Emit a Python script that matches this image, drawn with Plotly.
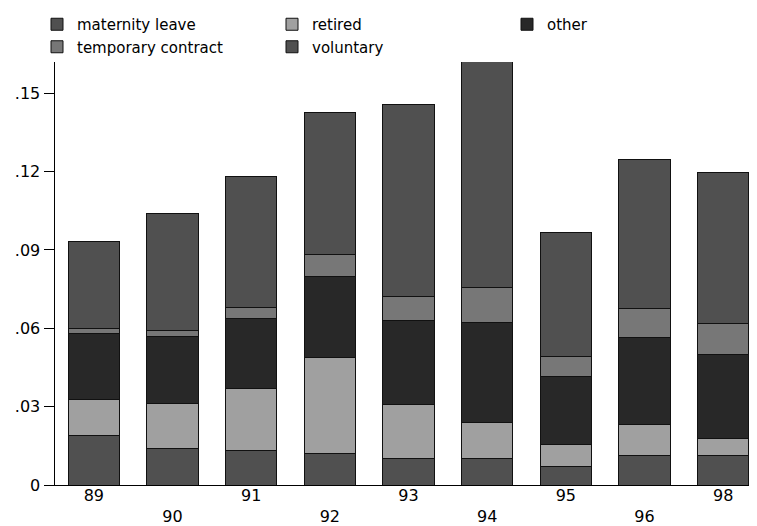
import plotly.graph_objects as go

categories = ["89", "90", "91", "92", "93", "94", "95", "96", "98"]

maternity_leave = [0.0189, 0.0139, 0.0133, 0.0120, 0.0100, 0.0100, 0.0072, 0.0113, 0.0113]
retired = [0.0139, 0.0172, 0.0238, 0.0370, 0.0207, 0.0138, 0.0082, 0.0118, 0.0066]
other = [0.0252, 0.0257, 0.0267, 0.0309, 0.0323, 0.0386, 0.0263, 0.0334, 0.0321]
temporary_contract = [0.0018, 0.0025, 0.0041, 0.0082, 0.0093, 0.0134, 0.0074, 0.0112, 0.0120]
voluntary = [0.0334, 0.0447, 0.0502, 0.0545, 0.0734, 0.0863, 0.0475, 0.0571, 0.0576]

y_tick_values = [0, 0.03, 0.06, 0.09, 0.12, 0.15]
y_tick_labels = ["0", ".03", ".06", ".09", ".12", ".15"]

series = [
    ("maternity leave", maternity_leave, "#505050"),
    ("retired", retired, "#a0a0a0"),
    ("other", other, "#282828"),
    ("temporary contract", temporary_contract, "#777777"),
    ("voluntary", voluntary, "#505050"),
]

FONT = "DejaVu Sans"
# the page body adds an 8px offset, so the figure is sized to the visible area
OFF = 8
W, H = 757 - OFF, 526 - OFF
PLOT_LEFT = 54.5 - OFF
PLOT_TOP = 62 - OFF
PLOT_BOTTOM = 485.5 - OFF

fig = go.Figure()
for name, vals, color in series:
    fig.add_trace(go.Bar(
        x=categories, y=vals, name=name,
        marker=dict(color=color, line=dict(color="#111111", width=1)),
    ))

x_tick_text = [c if i % 2 == 0 else "<br>" + c for i, c in enumerate(categories)]

fig.update_layout(
    width=W, height=H,
    barmode="stack",
    bargap=0.35,
    plot_bgcolor="white",
    paper_bgcolor="white",
    margin=dict(l=0, r=0, t=0, b=H - PLOT_BOTTOM),
    font=dict(family=FONT, size=16, color="#000000"),
    showlegend=True,
    legend=dict(
        orientation="h",
        traceorder="normal",
        x=(37 - OFF) / W, xanchor="left",
        y=1.0, yanchor="top",
        entrywidth=190,
        entrywidthmode="pixels",
        font=dict(family=FONT, size=15, color="#000000"),
        tracegroupgap=0,
        itemwidth=30,
        bgcolor="rgba(0,0,0,0)",
    ),
    xaxis=dict(
        type="category",
        domain=[PLOT_LEFT / W, 1],
        range=[-0.5, 8.43],
        automargin=False,
        showline=True, linecolor="#000000", linewidth=1,
        ticks="", showgrid=False, zeroline=False,
        tickmode="array", tickvals=categories, ticktext=x_tick_text,
        tickfont=dict(family=FONT, size=16),
        ticklabelstandoff=-4,
    ),
    yaxis=dict(
        domain=[0, (PLOT_BOTTOM - PLOT_TOP) / PLOT_BOTTOM],
        range=[0, 0.162],
        automargin=False,
        showline=True, linecolor="#000000", linewidth=1,
        ticks="outside", ticklen=10, tickcolor="#000000",
        showgrid=False, zeroline=False,
        tickmode="array", tickvals=y_tick_values, ticktext=y_tick_labels,
        tickfont=dict(family=FONT, size=16),
    ),
)

fig.write_html("out.html")
